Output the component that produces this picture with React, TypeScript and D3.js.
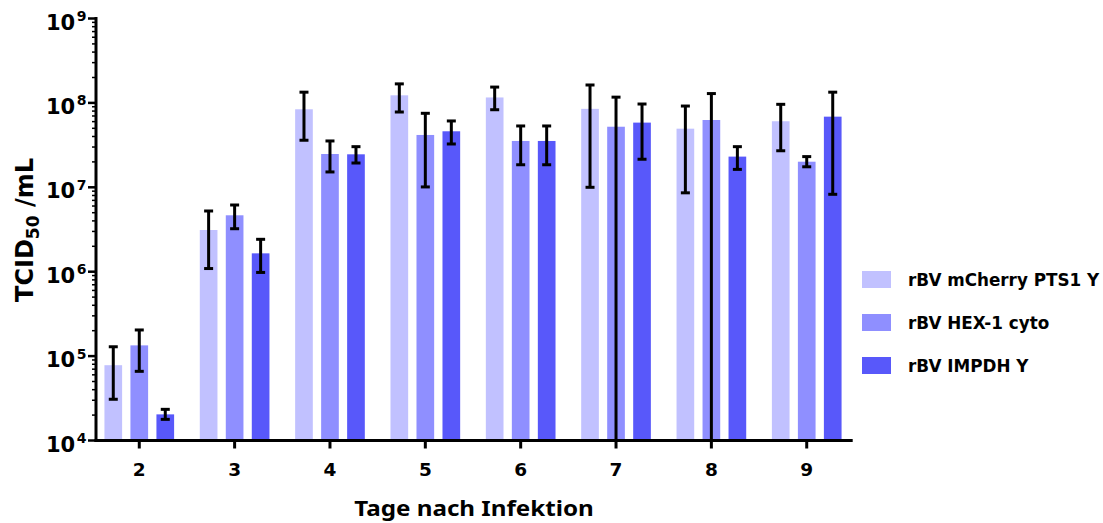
import * as d3 from "d3"

const days = ["2", "3", "4", "5", "6", "7", "8", "9"]
const seriesNames = ["rBV mCherry PTS1 Y", "rBV HEX-1 cyto", "rBV IMPDH Y"]
const seriesColors = ["#c1c1ff", "#8f8fff", "#5858fa"]

// mean, upper, lower per day (0 = error bar runs below the axis)
const mcherryMean = [7.8e4, 3.12e6, 8.4e7, 1.23e8, 1.16e8, 8.5e7, 4.95e7, 6.06e7]
const mcherryHigh = [1.29e5, 5.24e6, 1.34e8, 1.68e8, 1.54e8, 1.63e8, 9.18e7, 9.62e7]
const mcherryLow = [3.08e4, 1.09e6, 3.61e7, 7.8e7, 8.3e7, 1.0e7, 8.6e6, 2.71e7]

const hexMean = [1.34e5, 4.66e6, 2.48e7, 4.17e7, 3.54e7, 5.22e7, 6.27e7, 2.01e7]
const hexHigh = [2.04e5, 6.17e6, 3.54e7, 7.53e7, 5.33e7, 1.17e8, 1.29e8, 2.31e7]
const hexLow = [6.6e4, 3.23e6, 1.52e7, 1.01e7, 1.85e7, 0, 0, 1.75e7]

const impdhMean = [2.04e4, 1.65e6, 2.46e7, 4.61e7, 3.54e7, 5.84e7, 2.31e7, 6.87e7]
const impdhHigh = [2.34e4, 2.42e6, 3.03e7, 6.11e7, 5.33e7, 9.7e7, 3.03e7, 1.34e8]
const impdhLow = [1.78e4, 9.8e5, 1.94e7, 3.26e7, 1.85e7, 2.15e7, 1.63e7, 8.26e6]

const yExponents = [4, 5, 6, 7, 8, 9]

const means = [mcherryMean, hexMean, impdhMean]
const highs = [mcherryHigh, hexHigh, impdhHigh]
const lows = [mcherryLow, hexLow, impdhLow]

const W = 1103
const H = 523
const axisX = 96
const top = 18.5
const bottom = 440.5
const FONT = "'DejaVu Sans', Verdana, sans-serif"

export default function App() {
  const y = d3.scaleLog().domain([1e4, 1e9]).range([bottom, top])
  const x = d3.scaleBand().domain(days).range([91.6, 854.4])
  const inner = d3
    .scaleBand()
    .domain(seriesNames)
    .range([-39, 39])
    .paddingInner(0.32)
    .paddingOuter(0.16)

  const minorTicks: number[] = []
  for (let e = 4; e < 9; e++) {
    for (let m = 2; m <= 9; m++) minorTicks.push(m * Math.pow(10, e))
  }

  const yPos = (v: number) => (v <= 1e4 ? bottom : y(v))
  const center = (d: string) => x(d)! + x.bandwidth() / 2

  return (
    <svg
      width={W}
      height={H}
      style={{ position: "absolute", left: 0, top: 0, background: "#fff" }}
    >
      {/* bars */}
      {days.map((d, i) =>
        seriesNames.map((s, j) => {
          const v = means[j][i]
          return (
            <rect
              key={d + s}
              x={center(d) + inner(s)!}
              y={y(v)}
              width={inner.bandwidth()}
              height={bottom - y(v)}
              fill={seriesColors[j]}
            />
          )
        }),
      )}

      {/* error bars */}
      {days.map((d, i) =>
        seriesNames.map((s, j) => {
          const cx = center(d) + inner(s)! + inner.bandwidth() / 2
          const yh = yPos(highs[j][i])
          const yl = yPos(lows[j][i])
          return (
            <g key={"e" + d + s} stroke="#000" strokeWidth={3}>
              <line x1={cx} x2={cx} y1={yh} y2={yl} />
              <line x1={cx - 4.5} x2={cx + 4.5} y1={yh} y2={yh} />
              {lows[j][i] > 1e4 && (
                <line x1={cx - 4.5} x2={cx + 4.5} y1={yl} y2={yl} />
              )}
            </g>
          )
        }),
      )}

      {/* y axis */}
      <g stroke="#000">
        <line x1={axisX} x2={axisX} y1={top - 1.5} y2={bottom + 1.5} strokeWidth={3} />
        {minorTicks.map((t) => (
          <line key={t} x1={axisX - 4} x2={axisX} y1={y(t)} y2={y(t)} strokeWidth={1.5} />
        ))}
        {yExponents.map((e) => (
          <line
            key={e}
            x1={axisX - 8}
            x2={axisX}
            y1={y(Math.pow(10, e))}
            y2={y(Math.pow(10, e))}
            strokeWidth={2.5}
          />
        ))}
      </g>
      {yExponents.map((e) => (
        <text
          key={"l" + e}
          x={46}
          y={y(Math.pow(10, e)) + 11}
          fontFamily={FONT}
          fontWeight="bold"
          fontSize={21}
        >
          10
          <tspan dx={1.5} dy={-8.5} fontSize={14}>
            {e}
          </tspan>
        </text>
      ))}

      {/* x axis */}
      <g stroke="#000">
        <line x1={axisX - 1.5} x2={852.7} y1={bottom} y2={bottom} strokeWidth={3} />
        {days.map((d) => (
          <line
            key={d}
            x1={center(d)}
            x2={center(d)}
            y1={bottom}
            y2={bottom + 8}
            strokeWidth={3}
          />
        ))}
      </g>
      {days.map((d) => (
        <text
          key={"t" + d}
          x={center(d)}
          y={476}
          textAnchor="middle"
          fontFamily={FONT}
          fontWeight="bold"
          fontSize={18.5}
        >
          {d}
        </text>
      ))}

      {/* axis titles */}
      <text
        transform="translate(474,516) scale(1.1,1)"
        textAnchor="middle"
        fontFamily="'Noto Sans', 'Open Sans', sans-serif"
        fontWeight="bold"
        fontSize={22}
      >
        Tage nach Infektion
      </text>
      <text
        transform="translate(33,230) rotate(-90)"
        textAnchor="middle"
        fontFamily={FONT}
        fontWeight="bold"
        fontSize={24}
      >
        TCID
        <tspan dy={6} fontSize={17}>
          50
        </tspan>
        <tspan dy={-6}> /mL</tspan>
      </text>

      {/* legend */}
      {seriesNames.map((s, j) => (
        <g key={"lg" + s} transform={`translate(862,${271 + j * 43})`}>
          <rect width={29} height={17} fill={seriesColors[j]} />
          <text x={46} y={14.5} fontFamily={FONT} fontWeight="bold" fontSize={16.8}>
            {s}
          </text>
        </g>
      ))}
    </svg>
  )
}
